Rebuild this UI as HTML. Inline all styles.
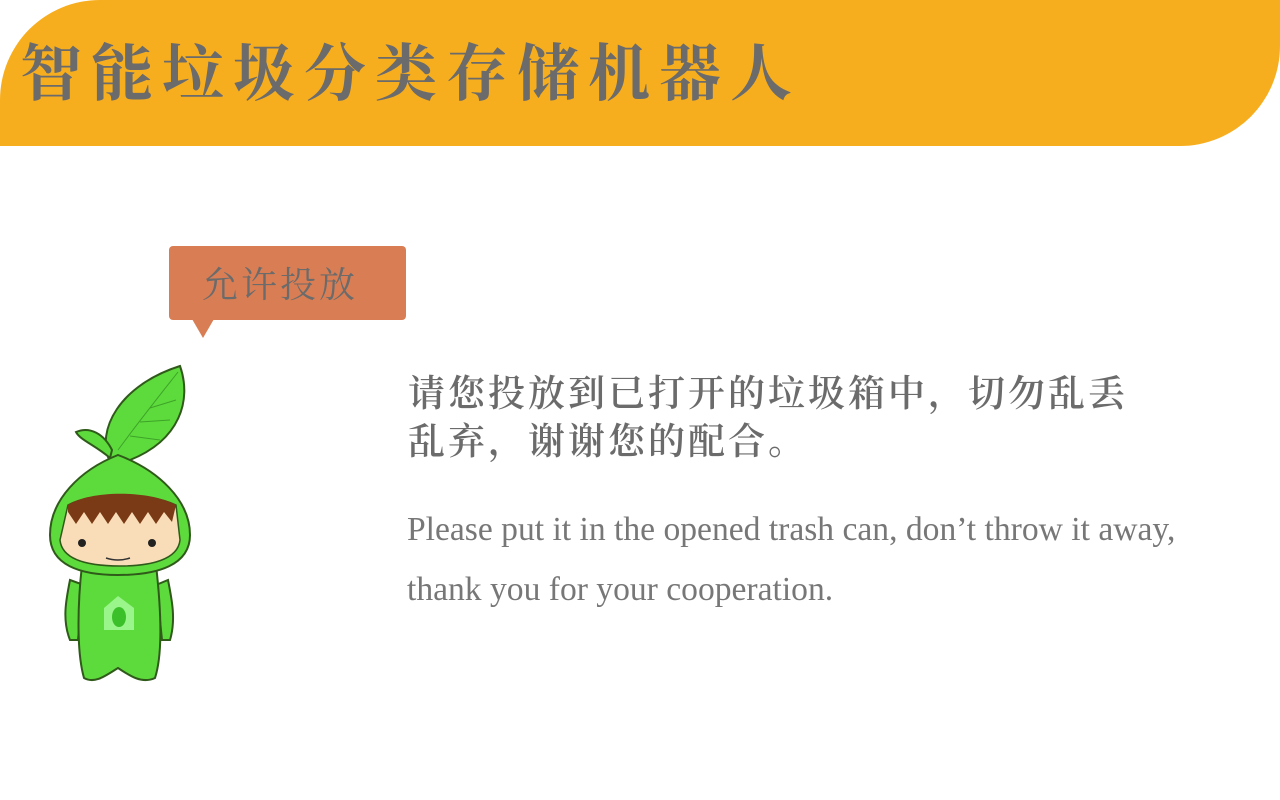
<!DOCTYPE html>
<html><head><meta charset="utf-8"><style>
body{margin:0;width:1280px;height:800px;background:#fff;position:relative;overflow:hidden;font-family:"Liberation Serif","Noto Serif CJK SC",serif}
.hdr{position:absolute;left:0;top:0;width:1280px;height:146px;background:#F7AE1E;border-radius:100px 0 100px 0}
.title{position:absolute;left:20px;top:26px;font-size:62px;line-height:86px;letter-spacing:9px;color:#6b6b6b;font-family:"Noto Serif CJK SC",serif;font-weight:bold;white-space:nowrap}
.bub{position:absolute;left:169px;top:246px;width:237px;height:74px;background:#D97E54;border-radius:4px}
.tail{position:absolute;left:192px;top:319px;width:0;height:0;border-left:11px solid transparent;border-right:11px solid transparent;border-top:19px solid #D97E54}
.bt{position:absolute;left:202px;top:255px;font-size:36px;line-height:56px;letter-spacing:3px;color:#6b6b6b;font-family:"Noto Serif CJK SC",serif;white-space:nowrap}
.cn{position:absolute;left:408px;top:366px;font-size:37px;line-height:48px;letter-spacing:3px;color:#6b6b6b;font-family:"Noto Serif CJK SC",serif;font-weight:600;width:740px}
.en{position:absolute;left:407px;top:500px;font-size:33.6px;line-height:60px;color:#777;white-space:nowrap}
</style></head><body>
<div class="hdr"></div>
<div class="title">智能垃圾分类存储机器人</div>
<div class="bub"></div>
<div class="tail"></div>
<div class="bt">允许投放</div>
<div class="cn">请您投放到已打开的垃圾箱中，切勿乱丢<br>乱弃，谢谢您的配合。</div>
<div class="en">Please put it in the opened trash can, don’t throw it away,<br>thank you for your cooperation.</div>
<svg style="position:absolute;left:0;top:0" width="260" height="700" viewBox="0 0 260 700">
<g stroke="#2f5a1a" stroke-width="2" fill="#5DDB3C">
<path d="M110 462 C95 430 120 385 180 366 C192 400 180 440 130 460 Z"/>
<path d="M110 458 C95 445 80 440 76 432 C90 426 104 434 112 450 Z"/>
<path d="M70 580 C66 600 62 620 70 640 L78 640 C80 620 82 600 84 585 Z"/>
<path d="M168 580 C172 600 176 620 170 640 L162 640 C160 620 158 600 156 585 Z"/>
<path d="M82 565 C78 600 76 650 84 678 C95 684 105 676 118 668 C130 676 142 684 155 678 C164 650 160 600 156 565 Z"/>
<path d="M118 455 C80 470 50 500 50 535 C50 565 80 575 118 575 C158 575 190 565 190 535 C190 500 158 470 118 455 Z"/>
</g>
<path d="M68 505 C90 492 150 492 176 505 L180 540 C178 560 150 566 120 566 C88 566 62 560 60 540 Z" fill="#F9DDB8" stroke="#2f5a1a" stroke-width="1.5"/>
<path d="M68 505 C90 490 150 490 176 505 L172 522 L164 512 L156 524 L148 512 L140 524 L132 512 L124 524 L116 512 L108 524 L100 512 L92 524 L84 512 L76 524 L68 512 Z" fill="#7a3a15"/>
<circle cx="82" cy="543" r="4" fill="#222"/><circle cx="152" cy="543" r="4" fill="#222"/>
<path d="M106 558 Q118 562 130 558" stroke="#333" stroke-width="1.5" fill="none"/>
<g><path d="M104 608 L118 596 L134 608 L134 630 L104 630 Z" fill="#9AF58A"/><ellipse cx="119" cy="617" rx="7" ry="10" fill="#3CC02A"/></g>
<g stroke="#3da328" stroke-width="1" fill="none"><path d="M118 450 C140 420 160 395 178 372"/><path d="M140 422 L170 420 M150 408 L176 400 M130 436 L160 440"/></g>
</svg>
</body></html>
